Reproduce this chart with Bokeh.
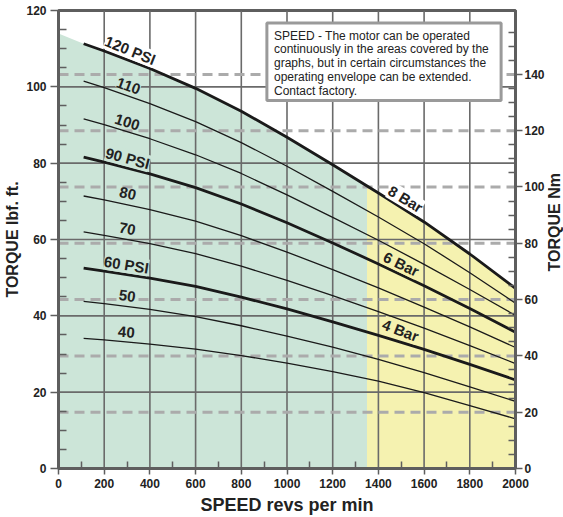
import math
from bokeh.plotting import figure
from bokeh.layouts import row
from bokeh.models import Range1d, LinearAxis, FixedTicker, ColumnDataSource, BoxAnnotation, Label
from bokeh.embed import file_html
from bokeh.resources import INLINE
from bokeh.core.properties import value

# ---------------- data ----------------
speed = [110, 200, 400, 600, 800, 1000, 1200, 1400, 1600, 1800, 2000]
torque_120psi = [111.3, 109.4, 104.8, 99.6, 93.6, 86.8, 79.6, 72.2, 64.6, 56.2, 47.2]
torque_110psi = [101.5, 99.8, 95.6, 90.9, 85.4, 79.2, 72.6, 65.9, 58.9, 51.3, 43.3]
torque_100psi = [91.6, 90.1, 86.4, 82.2, 77.3, 71.7, 65.8, 59.8, 53.5, 46.9, 40.1]
torque_90psi = [81.6, 80.3, 77.2, 73.6, 69.3, 64.4, 59.1, 53.6, 47.9, 41.9, 35.7]
torque_80psi = [71.4, 70.4, 67.8, 64.8, 61.0, 56.7, 52.1, 47.3, 42.3, 37.1, 31.7]
torque_70psi = [62.0, 61.1, 58.9, 56.3, 53.0, 49.3, 45.3, 41.1, 36.8, 32.2, 27.5]
torque_60psi = [52.5, 51.7, 49.9, 47.7, 44.9, 41.8, 38.4, 34.9, 31.2, 27.3, 23.2]
torque_50psi = [43.8, 43.2, 41.7, 39.8, 37.4, 34.7, 31.8, 28.6, 25.1, 21.4, 17.6]
torque_40psi = [34.1, 33.7, 32.6, 31.3, 29.6, 27.6, 25.4, 22.9, 19.9, 16.5, 13.0]

curves = [torque_120psi, torque_110psi, torque_100psi, torque_90psi, torque_80psi,
          torque_70psi, torque_60psi, torque_50psi, torque_40psi]
curve_labels = ["120 PSI", "110", "100", "90 PSI", "80", "70", "60 PSI", "50", "40"]
bar_labels = ["8 Bar", "6 Bar", "4 Bar"]

# operating envelope (upper edge of the shaded areas)
env_speed = [0, 110, 200, 400, 600, 800, 1000, 1200, 1350, 1400, 1600, 1800, 2000]
env_torque = [114.0, 111.3, 109.4, 104.8, 99.6, 93.6, 86.8, 79.6, 74.0, 72.2, 64.6, 56.2, 47.2]
continuous_limit_rpm = 1350

x_ticks = [0, 200, 400, 600, 800, 1000, 1200, 1400, 1600, 1800, 2000]
y_ticks = [0, 20, 40, 60, 80, 100, 120]
nm_ticks = [0, 20, 40, 60, 80, 100, 120, 140]
NM_PER_LBFFT = 1.3558

note_lines = ["SPEED - The motor can be operated",
              "continuously in the areas covered by the",
              "graphs, but in certain circumstances the",
              "operating envelope can be extended.",
              "Contact factory."]

# ---------------- styling ----------------
FONT = "Liberation Sans"
AX = "#5e5e5e"
GREEN = "#cce5d8"
YELLOW = "#f5f2b0"
INK = "#1a1a1a"
W, H, SIDE_W = 563, 517, 16

p = figure(width=W - SIDE_W, height=H, x_range=Range1d(0, 2000), y_range=Range1d(0, 120),
           output_backend="svg", toolbar_location=None,
           min_border_left=58, min_border_right=30, min_border_top=10, min_border_bottom=49)
p.extra_y_ranges = {"nm": Range1d(0, 120 * NM_PER_LBFFT)}
p.grid.visible = False
p.outline_line_color = AX
p.outline_line_width = 3
p.background_fill_color = "white"
p.border_fill_color = "white"


def style_axis(ax, ticks, minor, label, tick_out=8, minor_in=8, lab_standoff=4):
    ax.ticker = FixedTicker(ticks=ticks, minor_ticks=minor)
    ax.axis_line_color = AX
    ax.axis_line_width = 3
    ax.major_tick_line_color = AX
    ax.major_tick_line_width = 1.5
    ax.major_tick_out = tick_out
    ax.major_tick_in = 0
    ax.minor_tick_line_color = AX
    ax.minor_tick_line_width = 1.5
    ax.minor_tick_in = minor_in
    ax.minor_tick_out = 0
    ax.major_label_text_font = FONT
    ax.major_label_text_font_style = "bold"
    ax.major_label_text_font_size = "12px"
    ax.major_label_text_color = "#222222"
    ax.major_label_standoff = lab_standoff
    ax.axis_label = label
    ax.axis_label_text_font = FONT
    ax.axis_label_text_font_style = "bold"
    ax.axis_label_text_font_size = "16px"
    ax.axis_label_text_color = "#222222"
    ax.axis_label_standoff = 2


style_axis(p.xaxis[0], x_ticks, [t + 100 for t in x_ticks[:-1]], "SPEED revs per min",
           tick_out=6, minor_in=7, lab_standoff=4)
p.xaxis[0].axis_label_text_font_size = "18px"
p.xaxis[0].axis_label_standoff = 4
style_axis(p.yaxis[0], y_ticks, [t for t in range(5, 120, 5) if t % 20], "TORQUE lbf. ft.")

ry = LinearAxis(y_range_name="nm")
style_axis(ry, nm_ticks, [t for t in range(5, 165, 5) if t % 20], None,
           tick_out=7, minor_in=7, lab_standoff=2)
p.add_layout(ry, "right")

# shaded areas
k = env_speed.index(continuous_limit_rpm)
p.varea(x=env_speed[:k + 1], y1=[0] * (k + 1), y2=env_torque[:k + 1], fill_color=GREEN)
p.varea(x=env_speed[k:], y1=[0] * (len(env_speed) - k), y2=env_torque[k:], fill_color=YELLOW)

# grid lines
gx = x_ticks[1:-1]
p.segment(x0=gx, y0=[0] * len(gx), x1=gx, y1=[120] * len(gx), line_color="#6a6a6a", line_width=1.6)
gy = y_ticks[1:-1]
p.segment(x0=[0] * len(gy), y0=gy, x1=[2000] * len(gy), y1=gy, line_color="#6a6a6a", line_width=1.6)
gn = nm_ticks[1:]
p.segment(x0=[0] * len(gn), y0=gn, x1=[2000] * len(gn), y1=gn, y_range_name="nm",
          line_color="#ababab", line_width=3, line_dash="10 6")

# curves
thick = {"120 PSI", "90 PSI", "60 PSI"}
for lab, vals in zip(curve_labels, curves):
    p.line(speed, vals, line_color=INK, line_width=2.8 if lab in thick else 1.3,
           line_join="round")

# curve labels
lab_src = ColumnDataSource(dict(
    x=[314, 306, 301, 303, 303, 301, 297, 301, 297],
    y=[109.6, 100.2, 90.7, 81.3, 72.0, 62.8, 53.4, 45.2, 35.7],
    text=curve_labels,
    angle=[math.radians(a) for a in [-22, -20, -18, -15, -12, -11, -9, -8, -5]],
    bg=["white"] + [GREEN] * 8,
))
p.text(x="x", y="y", text="text", angle="angle", source=lab_src,
       text_font=value(FONT), text_font_style="bold", text_font_size="15px",
       text_color="#222222", text_align="center", text_baseline="middle",
       background_fill_color="bg")

bar_src = ColumnDataSource(dict(
    x=[1519, 1500, 1497],
    y=[70.6, 53.6, 36.2],
    text=bar_labels,
    angle=[math.radians(a) for a in [-31, -26, -21]],
    bg=["white", YELLOW, YELLOW],
))
p.text(x="x", y="y", text="text", angle="angle", source=bar_src,
       text_font=value(FONT), text_font_style="bold", text_font_size="15px",
       text_color="#222222", text_align="center", text_baseline="middle",
       background_fill_color="bg")

# note box
p.add_layout(BoxAnnotation(left=912, right=1937, top=116.7, bottom=96.4,
                           fill_color="white", fill_alpha=1.0,
                           line_color="#9a9a9a", line_width=3, line_alpha=1.0))
for i, line in enumerate(note_lines):
    p.add_layout(Label(x=943, y=113.4 - i * 3.6, text=line, text_baseline="middle",
                       text_font=FONT, text_font_size="12px", text_color="#222222"))

# right-hand axis title (reads bottom to top, like the left one), in a narrow strip
side = figure(width=SIDE_W, height=H, x_range=Range1d(0, SIDE_W), y_range=Range1d(0, H),
              output_backend="svg", toolbar_location=None, x_axis_type=None, y_axis_type=None,
              min_border=0)
side.grid.visible = False
side.outline_line_color = None
side.text(x=[SIDE_W / 2 - 1], y=[H - 239], text=["TORQUE Nm"], angle=math.pi / 2,
          text_font=value(FONT), text_font_style="bold", text_font_size="16px",
          text_color="#222222", text_align="center", text_baseline="middle")

layout = row(p, side, spacing=0)
open("out.html", "w").write(file_html(layout, INLINE))
